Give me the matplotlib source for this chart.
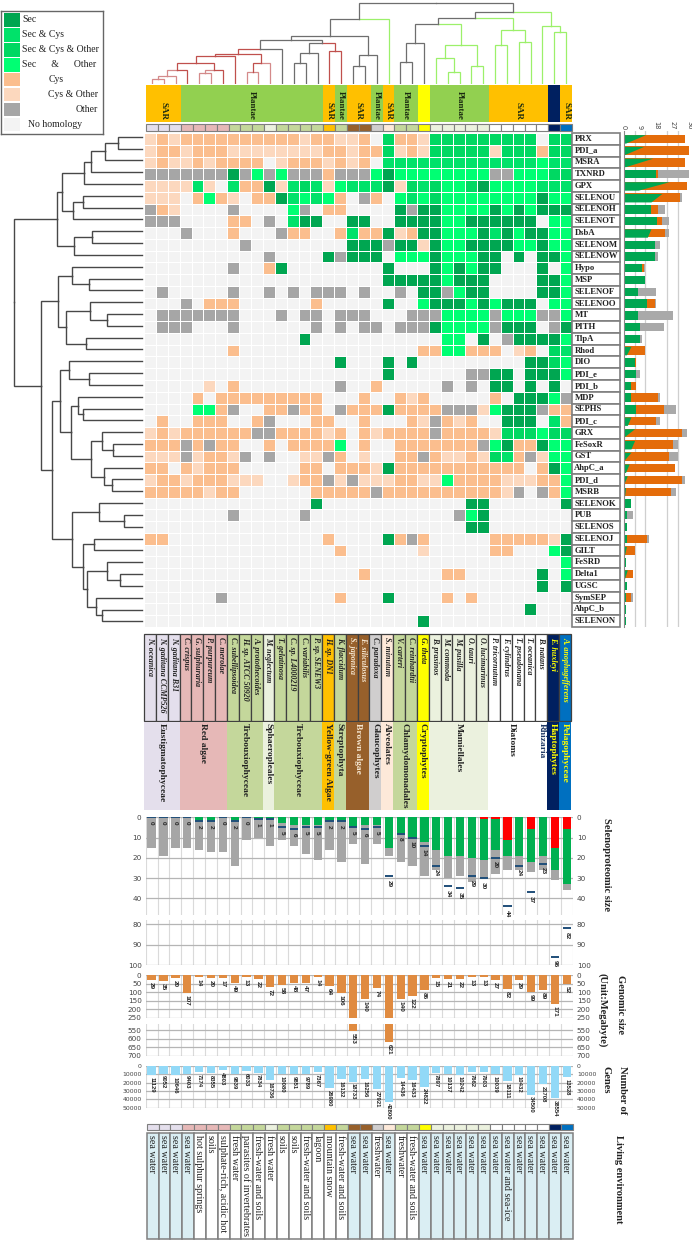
import numpy as np
import matplotlib
matplotlib.use('Agg')
import matplotlib.pyplot as plt
from matplotlib.colors import ListedColormap

W, H = 692, 1241
SERIF = 'Liberation Serif'
SANS = 'Liberation Sans'

genes = ['PRX', 'PDI_a', 'MSRA', 'TXNRD', 'GPX', 'SELENOU', 'SELENOH', 'SELENOT', 'DsbA', 'SELENOM', 'SELENOW',
         'Hypo', 'MSP', 'SELENOF', 'SELENOO', 'MT', 'PITH', 'TlpA', 'Rhod', 'DIO', 'PDI_e', 'PDI_b', 'MDP', 'SEPHS',
         'PDI_c', 'GRX', 'FeSoxR', 'GST', 'AhpC_a', 'PDI_d', 'MSRB', 'SELENOK', 'PUB', 'SELENOS', 'SELENOJ', 'GILT',
         'FeSRD', 'Delta1', 'UGSC', 'SymSEP', 'AhpC_b', 'SELENON']

species = ['N. oceanica', 'N. gaditana CCMP526', 'N. gaditana B31', 'C. crispus', 'G. sulphuraria', 'P. purpureum',
           'C. merolae', 'C. subellipsoidea', 'H. sp. ATCC 50920', 'A. protothecoides', 'M. neglectum',
           'T. gelatinosa', 'C. sp. L4000219', 'C. variabilis', 'P. sp. SENEW3', 'H. sp. DN1', 'K. flaccidum',
           'S. japonica', 'E. siliculosus', 'C. paradoxa', 'S. minutum', 'V. carteri', 'C. reinhardtii', 'G. theta',
           'B. prasinos', 'M. commoda', 'M. pusilla', 'O. tauri', 'O. lucimarinus', 'P. tricornutum', 'F. cylindrus',
           'T. pseudonana', 'T. oceanica', 'B. natans', 'E. huxleyi', 'A. anophagefferens']

# S Sec, C Sec&Cys, T Sec&Cys&Other, O Sec&Other, c Cys, d Cys&Other, g Other, . none
homology = [
    'dcdccccccccccdccd' + 'dc.TccdTTTTTTTTT.TT',
    'dccdcccddddddddcc' + 'dccTdcdTTTTTdTTTcTT',
    'dcddcdcccc.dcccdc' + 'dc.CCCCCCCCCCCCCOCC',
    'gggggggSgOgOgggcg' + 'ggOSOOOOOOOOggOOOTT',
    'ddddCd.CccSdCTCdO' + 'CCCSdTCTOOTSOOOOCCC',
    'ddd.cOcd.ccSCOCOc' + '.gc.OCOTOOOOOOOOSOO',
    'gcd....g....Og.cc' + '....SgSSOOOOSOSOSSS',
    'ggg....cc.g.CSS..' + 'SS..SSSSOOSSSSSS.OO',
    '...g...c...gcc..c' + 'CccSdcSSOOOSCSOSSOO',
    '........g........' + 'SSSgSSdSOOSSSSOOSOO',
    '..........g....Sg' + 'SSS.OOOSOOOSS.S.SSO',
    '.......g..cS.....' + '...S...SOSOSS...S.O',
    '.................' + '...SSSSSOSSS....SSO',
    '.g.....g..g.g.ggg' + '.g..g.SSgOSS....SSO',
    '...g.ccc......c..' + '...S..OSSSOSOSSS.OO',
    '.ggggggg...g.gg.g' + 'gg...gggOOOOgOOOggO',
    '.ggg...g......g.g' + '.gg.gggSOOOOgSSS.gS',
    '.............S...' + '........OO.S.gSSSSO',
    '.......c.........' + '......ccOOccc.dc.TC',
    '................S' + '...S.S.........SSTO',
    '.................' + '...S......ggSS.SSSO',
    '.....d.c........g' + '..c.....g.g.SS.S.S.',
    '....c.ccccccccc..' + '.c..cdc.....c.SSSOg',
    '....OOcg..ccgcc.g' + 'cccSccccgggdOSSSgcc',
    '.c..ccc..cg...cc.' + '.c...cdgcdc..SSS.Cc',
    'dcdccccccggccccdc' + '.cdccccgccccdTTTOTT',
    'cccgcgcc..c.ccccO' + '.c..cccccccgOSccSOO',
    'dddgdccdg.g..ddgc' + '.d..ccgcddcdTCcgdOO',
    'cc.cdccc.....cc.c' + 'ccdSccccccccccc.cSO',
    'dccdcccddd..dccgd' + 'gdddccddOccccdddccO',
    'cccccdcc......ccc' + 'ccgccccccccccdg.gcO',
    '..............S..' + '..........SS......S',
    '.......g.....g...' + '.........gOS.......',
    '.................' + '..........SS.......',
    'cc.............c.' + '...Scgc.....cccccdS',
    '................c' + '......d.....cc...OS',
    '.................' + '..................O',
    '.................' + '.c......cc......S.O',
    '.................' + '................S.S',
    '......g.........c' + '...S....c.c........',
    '.................' + '...............S...',
    '.................' + '......S............',
]
homology_codes = 'STCOcdg.'
homology_colors = ['#00A651', '#00D862', '#00E26A', '#00FF73', '#FBBE8E', '#FCD8BE', '#A6A6A6', '#F3F3F3']
legend_labels = ['Sec', 'Sec & Cys', 'Sec & Cys & Other', 'Sec      &      Other', 'Cys', 'Cys & Other', 'Other',
                 'No homology']
legend_order = [0, 2, 1, 3, 4, 5, 6, 7]
legend_text_x = [20.5, 20.5, 20.5, 20.5, 47, 47, 74, 26]

# stacked counts per gene: Sec at upper and lower bar edge, end of Cys, end of Other
sec_top = [12, 11, 16, 18, 25, 21, 15, 18.5, 15, 17, 17, 10, 12, 8, 13, 8, 9, 9, 4, 6, 7, 4, 4, 7, 4, 6, 6, 4, 3, 2, 1,
           4, 2, 2, 2, 1.5, 1, 2, 2, 1, 1, 1]
sec_bottom = [1, 0, 1, 18, 8, 15, 15, 18.5, 13, 17, 17, 10, 12, 8, 13, 8, 9, 9, 1.5, 6, 7, 4, 4, 7, 2, 0, 4, 0, 1, 0,
              0.5, 4, 2, 2, 2, 0.5, 1, 0.5, 2, 1, 1, 1]
cys_end = [33.7, 36, 33.8, 18.8, 35, 31, 19, 21, 23, 17.5, 17, 11, 12, 8, 17, 8, 9, 9, 12, 7, 7, 7, 19, 22, 18, 32, 27,
           25, 28, 32, 26, 4, 2, 2, 13, 6, 1, 5, 2, 4, 1, 1]
other_end = [33.7, 36, 33.8, 36, 35, 32, 23, 25, 25, 20, 19, 12, 12, 18, 18, 27, 22, 10, 12, 7, 9, 7, 20, 29, 20, 35,
             30, 30, 28, 34, 29, 4, 5, 2, 14, 6, 1, 5, 2, 5, 1, 1]

taxa = ['SAR', 'Plantae', 'SAR', 'Plantae', 'SAR', 'Plantae', 'SAR', 'Plantae', '', 'Plantae', 'SAR', '', 'SAR']
taxa_spans = [3, 12, 1, 1, 2, 1, 1, 2, 1, 5, 5, 1, 1]
taxa_colors = ['#FFC000', '#92D050', '#FFC000', '#92D050', '#FFC000', '#92D050', '#FFC000', '#92D050', '#FFFF00',
               '#92D050', '#FFC000', '#002060', '#FFC000']

classes = ['Eustigmatophyceae', 'Red algae', 'Trebouxiophyceae', 'Sphaeropleales', 'Trebouxiophyceae',
           'Yellow-green Algae', 'Streptophyta', 'Brown algae', 'Glaucophytes', 'Alveolates', 'Chlamydomonadales',
           'Cryptophytes', 'Mamiellales', 'Diatoms', 'Rhizaria', 'Haptophytes', 'Pelagophyceae']
class_spans = [3, 4, 3, 1, 4, 1, 1, 2, 1, 1, 2, 1, 5, 4, 1, 1, 1]
class_colors = ['#E4DFEC', '#E6B8B7', '#C4D79B', '#EBF1DE', '#C4D79B', '#FFC000', '#C4D79B', '#97602B', '#D0CECE',
                '#FDE9D9', '#C4D79B', '#FFFF00', '#EBF1DE', '#FFFFFF', '#FFFFFF', '#002060', '#0070C0']
class_text = ['#222222', '#222222', '#222222', '#222222', '#222222', '#222222', '#222222', '#F5E6D0', '#222222',
              '#222222', '#222222', '#222222', '#222222', '#222222', '#1F3864', '#FFFF00', '#FFFF00']

seleno_total = [0, 0, 0, 0, 2, 2, 0, 2, 0, 1, 1, 5, 6, 5, 5, 2, 2, 5, 6, 5, 29, 8, 10, 14, 24, 34, 35, 29, 30, 20, 44,
                24, 37, 23, 96, 82]
seleno_red = [0, 0, 0, 0, 0, 0, 0, 0, 0, 0, 0, 0, 0, 0, 0, 0, 0, 0, 0, 0, 0, 0, 0, 0, 0, 0, 0, 0, 1, 1, 11, 0, 6, 0, 15,
              6]
seleno_green = [0, 0, 0, 0, 2, 2, 0, 2, 0, 1, 1, 3, 4, 4, 4, 2, 2, 5, 4, 4, 15, 8, 10, 12, 16, 19, 19, 20, 21, 16, 19,
                19, 22, 19, 26, 33]
seleno_gray = [15, 19, 15, 15, 16, 17, 17, 24, 11, 10, 14, 11, 14, 18, 21, 16, 22, 13, 23, 13, 19, 22, 24, 29, 26, 30,
               29, 32, 30, 28, 26, 26, 27, 26, 31, 36]

genome_size = [29, 35, 20, 107, 14, 20, 17, 49, 13, 22, 72, 58, 48, 47, 14, 64, 106, 553, 140, 74, 621, 140, 122, 86,
               15, 21, 22, 13, 13, 27, 82, 29, 99, 89, 171, 52]
gene_count = [11129, 9052, 10646, 9403, 7174, 8355, 4803, 9839, 6033, 7834, 16736, 10080, 9851, 9789, 7367, 26980,
              16132, 18733, 16256, 27921, 42800, 14436, 16433, 24822, 7897, 10137, 10242, 7662, 7603, 10039, 18111,
              10432, 34500, 21708, 38554, 13528]

habitat = ['sea water', 'sea water', 'sea water', 'sea water', 'hot sulphur springs', 'soils',
           'sulphate-rich, acidic hot', 'fresh water', 'parasites of invertebrates', 'fresh-water and soils',
           'fresh water', 'soils', 'soils', 'fresh-water and soils', 'lagoon', 'mountain snow',
           'fresh-water and soils', 'sea water', 'sea water', 'freshwater', 'sea water', 'freshwater',
           'fresh-water and soils', 'sea water', 'sea water', 'sea water', 'sea water', 'sea water', 'sea water',
           'sea water', 'sea water and sea-ice', 'sea water', 'sea water', 'sea water', 'sea water', 'sea water']

# column tree: (height, left colour, right colour, left child, right child)
PINK, RED, DARK, LIME = '#D48A8A', '#C0504D', '#6E6E6E', '#9CF06A'
red_group = (49.3, RED, DARK,
             (54.3, RED, RED,
              (55.7, RED, RED,
               (62.7, RED, RED,
                (70, PINK, RED, (76.3, PINK, PINK, (79, PINK, PINK, 0, 1), 2), 3),
                (70.3, PINK, RED, (73.3, PINK, PINK, 4, 5), 6)),
               7),
              (63.3, RED, PINK, (71.7, PINK, PINK, 8, 9), 10)),
             11)
dark_group = (43.3, DARK, RED,
              (53.3, DARK, DARK, (63.3, DARK, DARK, 12, 13), 14),
              (51, RED, RED, 15, 16))
left_group = (19.3, DARK, LIME,
              (35.7, DARK, DARK, (40, DARK, DARK, red_group, dark_group),
               (55, DARK, DARK, (65.7, DARK, DARK, 17, 18), 19)),
              20)
right_group = (11.7, DARK, LIME,
               (18.3, DARK, LIME,
                (24, DARK, LIME,
                 (43.3, DARK, DARK, (62.3, DARK, DARK, 21, 22), 23),
                 (45, LIME, LIME, (58.3, LIME, LIME, 24, (72.3, LIME, LIME, 25, 26)), (66, LIME, LIME, 27, 28))),
                (30, LIME, LIME, (45, LIME, LIME, 29, 30), (42.3, LIME, LIME, 31, 32))),
               (25.7, LIME, LIME, 33, (32.3, LIME, LIME, 34, 35)))
col_tree = (2.7, DARK, DARK, left_group, right_group)


def n(h, a, b):
    return (h, '#484848', '#484848', a, b)


row_upper = n(57.3,
              n(62.3,
                n(83.7, n(90.7, n(105, n(117.7, 0, 1), 2), 3), 4),
                n(72.7, n(82.7, 5, 6), 7)),
              n(74, n(91.7, 8, 9), 10))
row_middle = n(58.3,
               n(72.3, 11, n(88.7, 12, 13)),
               n(66, n(89.7, 14, n(106.7, 15, 16)), n(85.7, 17, 18)))
row_lower = n(60.3,
              n(69, 19, n(89, 20, 21)),
              n(70.7,
                n(78.3, 22, n(82.7, 23, 24)),
                n(90.7, n(102.3, 25, n(113.3, 26, 27)), n(103.7, 28, n(111.7, 29, 30)))))
row_bottom = n(72,
               n(99, 31, n(124.3, 32, 33)),
               n(83.3,
                 n(93.7, 34, 35),
                 n(87.3, n(106.7, 36, n(119.7, 37, 38)), n(96, 39, n(102.3, 40, 41)))))
row_tree = n(13.7, row_upper, n(41.3, row_middle, n(51.7, row_lower, row_bottom)))

fig = plt.figure(figsize=(W / 100, H / 100), dpi=100)


def panel(x0, y0, x1, y1):
    ax = fig.add_axes([x0 / W, 1 - y1 / H, (x1 - x0) / W, (y1 - y0) / H])
    return ax


def draw_tree(ax, node, base, horizontal=False, lw=0.9):
    if not isinstance(node, tuple):
        return node, base
    top, lc, rc, left, right = node
    pl, hl = draw_tree(ax, left, base, horizontal, lw)
    pr, hr = draw_tree(ax, right, base, horizontal, lw)
    mid = (pl + pr) / 2
    if horizontal:
        ax.plot([hl, top, top], [pl, pl, mid], color=lc, lw=lw, solid_joinstyle='miter')
        ax.plot([top, top, hr], [mid, pr, pr], color=rc, lw=lw, solid_joinstyle='miter')
    else:
        ax.plot([pl, pl, mid], [hl, top, top], color=lc, lw=lw, solid_joinstyle='miter')
        ax.plot([mid, pr, pr], [top, top, hr], color=rc, lw=lw, solid_joinstyle='miter')
    return mid, top


def strip(x0, y0, x1, y1, colors, edge='#7F7F7F', lw=0.8):
    ax = panel(x0, y0, x1, y1)
    ax.bar(np.arange(36), 1, width=1, align='edge', color=colors, edgecolor=edge, linewidth=lw, clip_on=False)
    ax.set_xlim(0, 36)
    ax.set_ylim(1, 0)
    ax.axis('off')
    return ax


def style_panel(ax, yticks, size=5.2):
    ax.set_xlim(0, 36)
    ax.set_xticks(np.arange(37))
    ax.set_yticks(yticks)
    ax.grid(True, axis='x', color='#DADADA', lw=0.8)
    ax.grid(True, axis='y', color='#B5B5B5', lw=0.9)
    ax.set_axisbelow(True)
    ax.tick_params(length=0, labelbottom=False, labelleft=True, labelright=True, labelsize=size, pad=3,
                   labelcolor='#444444')
    for s in ax.spines.values():
        s.set_visible(False)


# legend
ax = panel(1.5, 11, 103, 133.5)
ax.barh(np.arange(8), 16, height=0.9, left=2.5, color=[homology_colors[i] for i in legend_order])
for i, label in enumerate(legend_labels):
    ax.text(legend_text_x[i], i, label, family=SERIF, fontsize=7.0, va='center', color='#222222')
ax.set_xlim(0, 101.5)
ax.set_ylim(7.6, -0.6)
ax.set_xticks([])
ax.set_yticks([])
for s in ax.spines.values():
    s.set_color('#666666')
    s.set_linewidth(1.0)

# column tree
ax = panel(144, 0, 572, 84)
draw_tree(ax, col_tree, 83)
ax.set_xlim((144 - 152) / 11.83, (572 - 152) / 11.83)
ax.set_ylim(84, 0)
ax.axis('off')

# taxon band
ax = panel(145.7, 84.7, 572, 122.3)
lefts = np.cumsum([0] + taxa_spans[:-1])
ax.bar(lefts, 1, width=taxa_spans, align='edge', color=taxa_colors)
for left, span, name in zip(lefts, taxa_spans, taxa):
    ax.text(left + span / 2, 0.93, name, rotation=-90, ha='center', va='bottom', family=SERIF, weight='bold',
            fontsize=6.5, color='#1A2A10')
ax.set_xlim(0, 36)
ax.set_ylim(1, 0)
ax.axis('off')

col_colors = np.repeat(class_colors, class_spans)
strip(145.7, 124, 572, 130.5, col_colors)

# row tree
ax = panel(0, 130, 145, 630)
draw_tree(ax, row_tree, 141.7, horizontal=True, lw=1.0)
ax.set_xlim(0, 145)
ax.set_ylim((630 - 136.7) / 11.82, (130 - 136.7) / 11.82)
ax.axis('off')

# heatmap
ax = panel(144, 133, 572, 627)
matrix = np.array([[homology_codes.index(ch) for ch in row] for row in homology])
ax.pcolormesh(np.arange(37), np.arange(43), matrix, cmap=ListedColormap(homology_colors), vmin=-0.5, vmax=7.5,
              edgecolors='white', linewidth=0.6)
ax.set_ylim(42, 0)
ax.axis('off')

# gene names
ax = panel(572, 133, 620, 627)
ax.barh(np.arange(42), 1, height=1, align='edge', color='white', edgecolor='#7F7F7F', linewidth=1.2, clip_on=False)
for i, g in enumerate(genes):
    ax.text(0.05, i + 0.5, g, family=SERIF, weight='bold', fontsize=6.2, va='center', color='#222222')
ax.set_xlim(0, 1)
ax.set_ylim(42, 0)
ax.axis('off')

# stacked bars per gene
ax = panel(623.7, 131, 690, 627)
y = np.arange(42) + 0.5
ax.barh(y, other_end, height=0.72, color='#A9A9A9')
ax.barh(y, cys_end, height=0.72, color='#E46C0A')
for i in range(42):
    ax.fill_betweenx([y[i] - 0.36, y[i] + 0.36], 0, [sec_top[i], sec_bottom[i]], color='#00A651', lw=0)
ax.set_xlim(0, 36.5)
ax.set_ylim(42, -0.17)
ax.set_xticks([0, 9, 18, 27, 36])
ax.set_xticks(np.arange(0, 37, 6), minor=True)
ax.set_yticks([])
ax.grid(True, which='minor', axis='x', color='#CFCFCF', lw=0.9)
ax.set_axisbelow(True)
ax.xaxis.tick_top()
ax.tick_params(which='both', length=0, labelsize=4.8, pad=1, labelcolor='#444444')
plt.setp(ax.get_xticklabels(), rotation=-90, ha='center')
for name, s in ax.spines.items():
    s.set_visible(name == 'left')
ax.spines['left'].set_color('#888888')

# species table
ax = strip(144, 634, 571, 721, col_colors, edge='#404040', lw=0.9)
species_text = ['#222222'] * 36
species_text[17] = species_text[18] = '#F5E6D0'
species_text[34] = species_text[35] = '#FFFF00'
for i, name in enumerate(species):
    ax.text(i + 0.5, 0.03, name, rotation=-90, ha='center', va='top', family=SERIF, style='italic', weight='bold',
            fontsize=5.8, color=species_text[i])

# class band
ax = panel(144, 722, 571, 810)
lefts = np.cumsum([0] + class_spans[:-1])
ax.bar(lefts, 1, width=class_spans, align='edge', color=class_colors)
for left, span, name, col in zip(lefts, class_spans, classes, class_text):
    ax.text(left + span / 2, 0.015, name, rotation=-90, ha='center', va='top', family=SERIF, weight='bold',
            fontsize=6.8, color=col)
ax.set_xlim(0, 36)
ax.set_ylim(1, 0)
ax.axis('off')

# selenoproteome
x = np.arange(36) + 0.5
ax_low = panel(145.7, 817.3, 572.7, 915)
ax_low.bar(x, seleno_gray, width=0.7, color='#A6A6A6')
ax_low.bar(x, seleno_green, width=0.7, color='#00B050')
ax_low.bar(x, seleno_red, width=0.7, color='#FF0000')
ax_low.set_ylim(48.2, 0)
style_panel(ax_low, [0, 10, 20, 30, 40])
ax_high = panel(145.7, 920, 572.7, 965)
ax_high.set_ylim(100, 78)
style_panel(ax_high, [80, 90, 100])
for ax in (ax_low, ax_high):
    lo, hi = ax.get_ylim()[1], ax.get_ylim()[0]
    for i, v in enumerate(seleno_total):
        if lo <= v <= hi:
            ax.hlines(v, x[i] - 0.35, x[i] + 0.35, color='#1F4E79', lw=1.4)
            ax.annotate(str(v), (x[i], v), xytext=(0, -2.5), textcoords='offset points', rotation=-90, ha='center',
                        va='top', family=SANS, weight='bold', fontsize=4.6, color='#222222', annotation_clip=False)

# genome size
ORANGE = '#E08B40'
ax_low = panel(145.7, 975, 572.7, 1017.7)
ax_low.bar(x, np.minimum(genome_size, 250), width=0.7, color=ORANGE)
ax_low.set_ylim(250, 0)
style_panel(ax_low, [0, 50, 100, 150, 200, 250])
ax_high = panel(145.7, 1024, 572.7, 1055.7)
big = np.array(genome_size) > 514
ax_high.bar(x[big], np.array(genome_size)[big] - 514, bottom=514, width=0.7, color=ORANGE)
ax_high.set_ylim(700, 514)
style_panel(ax_high, [550, 600, 650, 700])
for i, v in enumerate(genome_size):
    ax = ax_high if v > 514 else ax_low
    ax.annotate(str(v), (x[i], v), xytext=(0, -1.5), textcoords='offset points', rotation=-90, ha='center', va='top',
                family=SANS, weight='bold', fontsize=4.6, color='#222222', annotation_clip=False)

# gene count
ax = panel(145.7, 1066, 572.7, 1107.5)
ax.bar(x, gene_count, width=0.7, color='#92D9F7')
ax.set_ylim(50000, 0)
style_panel(ax, [0, 10000, 20000, 30000, 40000, 50000], size=4.4)
for i, v in enumerate(gene_count):
    ax.annotate(str(v), (x[i], v), xytext=(0, -1.2), textcoords='offset points', rotation=-90, ha='center', va='top',
                family=SANS, weight='bold', fontsize=4.2, color='#222222', annotation_clip=False)

# habitat
strip(146.7, 1123.7, 572.7, 1130, col_colors)
cell_colors = ['#DAEEF3' if h.startswith('sea water') else 'white' for h in habitat]
ax = strip(146.7, 1132.7, 572.7, 1239, cell_colors, edge='#808080', lw=1.1)
for i, name in enumerate(habitat):
    ax.text(i + 0.38, 0.02, name, rotation=-90, ha='center', va='top', family=SERIF, fontsize=7.2, color='#222222')

# side titles
side_titles = [(606, 818, 'Selenoproteomic size'), (620, 975, 'Genomic size'), (602, 973, '(Unit:Megabyte)'),
               (622, 1066, 'Number of'), (606, 1066, 'Genes'), (619, 1135, 'Living environment')]
for px, py, title in side_titles:
    fig.text(px / W, 1 - py / H, title, rotation=-90, ha='center', va='top', family=SERIF, weight='bold',
             fontsize=7.6, color='#222222')

fig.savefig('out.png', dpi=100)
